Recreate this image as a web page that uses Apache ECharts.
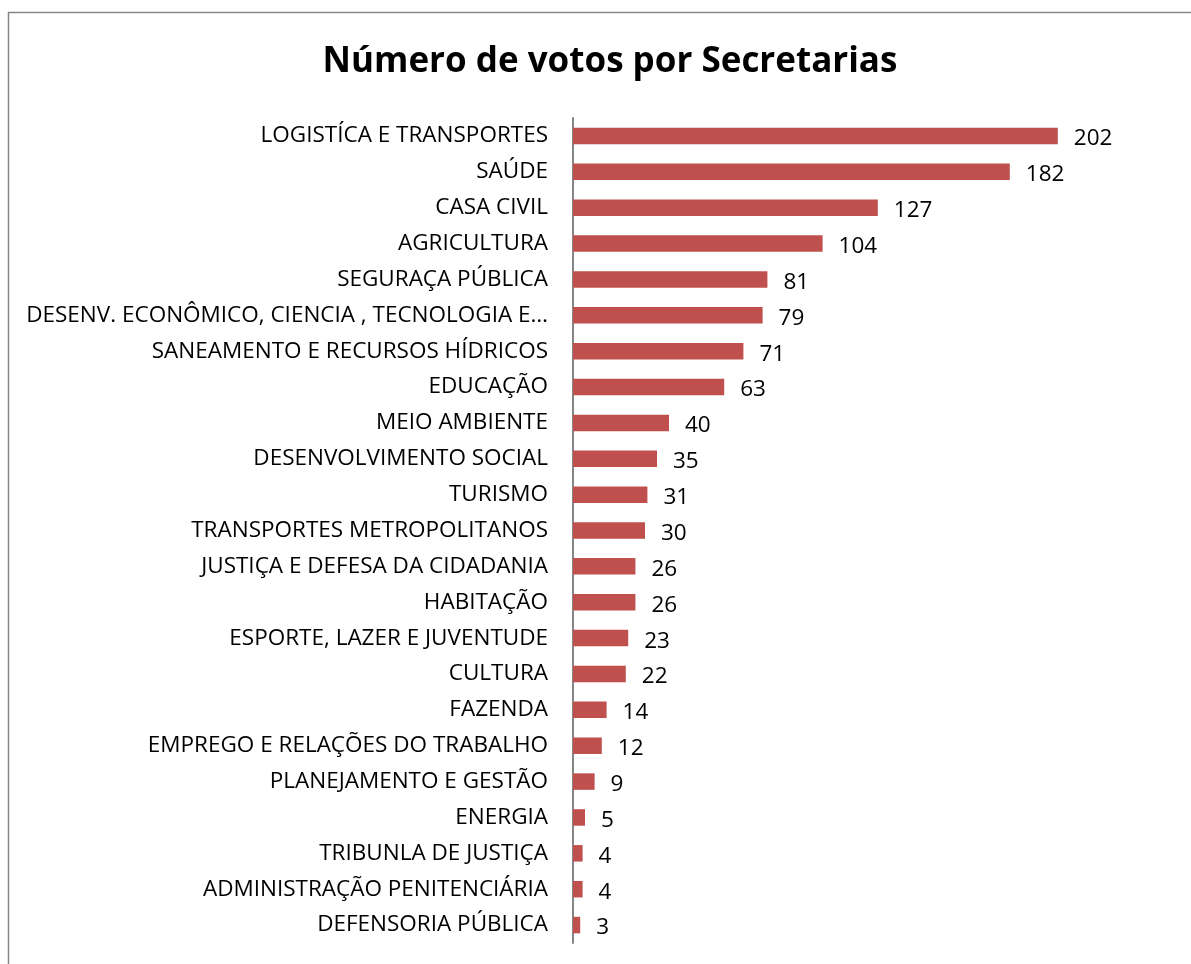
<!DOCTYPE html>
<html><head><meta charset="utf-8">
<script src="https://cdn.jsdelivr.net/npm/echarts@6/dist/echarts.min.js"></script>
<style>html,body{margin:0;padding:0;background:#fff}#c{width:1191px;height:964px}</style>
</head><body><div id="c"></div>
<script>
const categories = [
  "LOGISTÍCA E TRANSPORTES","SAÚDE","CASA CIVIL","AGRICULTURA","SEGURAÇA PÚBLICA",
  "DESENV. ECONÔMICO, CIENCIA , TECNOLOGIA E…","SANEAMENTO E RECURSOS HÍDRICOS","EDUCAÇÃO",
  "MEIO AMBIENTE","DESENVOLVIMENTO SOCIAL","TURISMO","TRANSPORTES METROPOLITANOS",
  "JUSTIÇA E DEFESA DA CIDADANIA","HABITAÇÃO","ESPORTE, LAZER E JUVENTUDE","CULTURA",
  "FAZENDA","EMPREGO E RELAÇÕES DO TRABALHO","PLANEJAMENTO E GESTÃO","ENERGIA",
  "TRIBUNLA DE JUSTIÇA","ADMINISTRAÇÃO PENITENCIÁRIA","DEFENSORIA PÚBLICA"
];
const votes = [202,182,127,104,81,79,71,63,40,35,31,30,26,26,23,22,14,12,9,5,4,4,3];
const titleText = "Número de votos por Secretarias";

const chart = echarts.init(document.getElementById('c'), null, {renderer:'canvas'});
const font = "'Open Sans', sans-serif";
chart.setOption({
  animation:false,
  backgroundColor:'#fff',
  title:{text:titleText,left:605,textAlign:'center',top:40,
    textStyle:{fontFamily:font,fontSize:35,fontWeight:'bold',color:'#000'}},
  grid:{left:573,top:118,bottom:21,right:78,containLabel:false},
  xAxis:{type:'value',min:0,max:225,show:false},
  yAxis:{type:'category',data:categories,inverse:true,
    axisLine:{show:true,lineStyle:{color:'#868686',width:2}},
    axisTick:{show:false},
    axisLabel:{margin:25,color:'#000',fontFamily:font,fontSize:22.5,padding:[4,0,0,0]}},
  series:[{type:'bar',data:votes,barWidth:'46%',
    itemStyle:{color:'#C0504D'},
    label:{show:true,position:'right',distance:16,offset:[0,3],color:'#000',fontFamily:font,fontSize:22.5}}],
  graphic:[
    {type:'line',shape:{x1:8,y1:12.5,x2:1191,y2:12.5},style:{stroke:'#868686',lineWidth:1.5}},
    {type:'line',shape:{x1:8.5,y1:12,x2:8.5,y2:964},style:{stroke:'#868686',lineWidth:1.5}}
  ]
});
</script></body></html>
